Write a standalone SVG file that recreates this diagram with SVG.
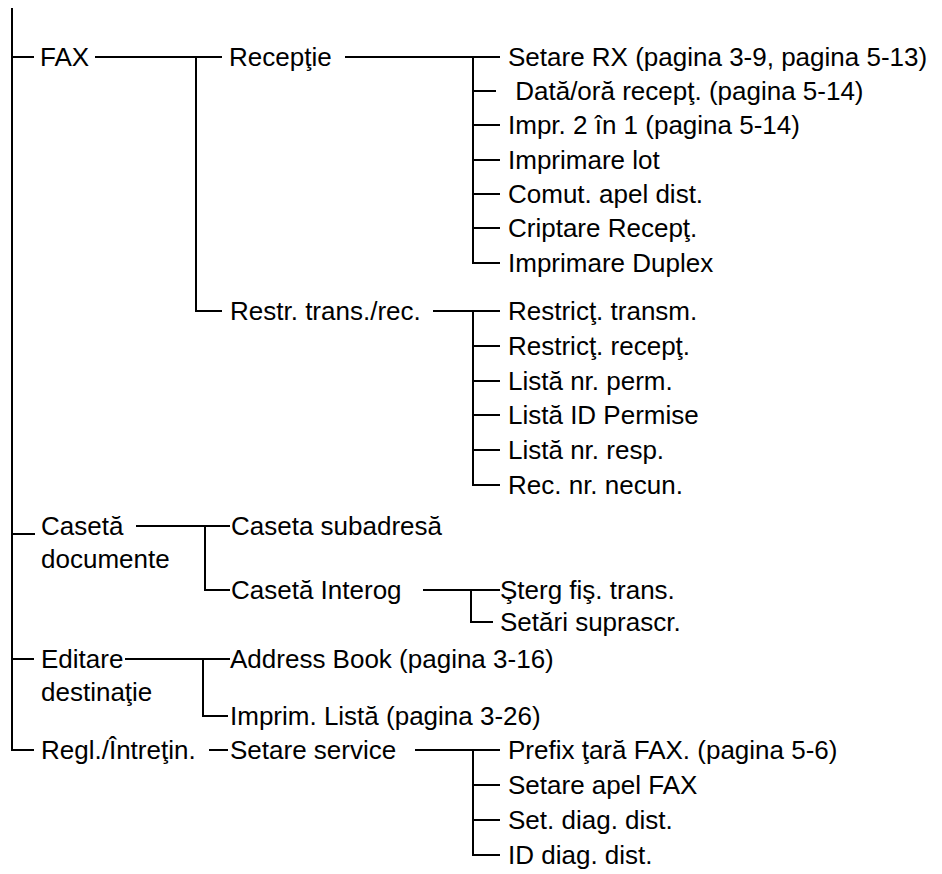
<svg xmlns="http://www.w3.org/2000/svg" width="942" height="874" viewBox="0 0 942 874">
<style>
text{font-family:"Liberation Sans",Arial,sans-serif;font-size:26px;fill:#000}
.c line,.c polyline{stroke:#000;stroke-width:2;fill:none}
</style>
<rect width="942" height="874" fill="#fff"/>
<g class="c" id="connectors">
<line x1="12" y1="8" x2="12" y2="750"/>
<line x1="12" y1="57" x2="34" y2="57"/>
<line x1="95" y1="57" x2="222" y2="57"/>
<polyline points="196,57 196,311 222,311"/>
<line x1="345" y1="57" x2="500" y2="57"/>
<polyline points="473,57 473,263 500,263"/>
<line x1="473" y1="91" x2="496" y2="91"/>
<line x1="473" y1="125" x2="500" y2="125"/>
<line x1="473" y1="160" x2="500" y2="160"/>
<line x1="473" y1="194" x2="500" y2="194"/>
<line x1="473" y1="228" x2="500" y2="228"/>
<line x1="433" y1="311" x2="500" y2="311"/>
<polyline points="473,311 473,485 500,485"/>
<line x1="473" y1="346" x2="500" y2="346"/>
<line x1="473" y1="381" x2="500" y2="381"/>
<line x1="473" y1="415" x2="500" y2="415"/>
<line x1="473" y1="450" x2="500" y2="450"/>
<line x1="12" y1="534" x2="35" y2="534"/>
<line x1="136" y1="526" x2="230" y2="526"/>
<polyline points="205,526 205,590 230,590"/>
<line x1="423" y1="590" x2="500" y2="590"/>
<polyline points="471,590 471,622 493,622"/>
<line x1="12" y1="659" x2="34" y2="659"/>
<line x1="125" y1="659" x2="230" y2="659"/>
<polyline points="203,659 203,716 228,716"/>
<polyline points="12,749 12,750 34,750" stroke-width="1.5"/>
<line x1="209" y1="750" x2="228" y2="750"/>
<line x1="415" y1="750" x2="500" y2="750"/>
<polyline points="473,750 473,855 500,855"/>
<line x1="473" y1="785" x2="500" y2="785"/>
<line x1="473" y1="820" x2="500" y2="820"/>
</g>
<g id="n-fax"><text x="40" y="66">FAX</text></g>
<g id="n-receptie"><text x="229" y="66">Recepţie</text></g>
<g id="n-setare-rx"><text x="508" y="66">Setare RX (pagina 3-9, pagina 5-13)</text></g>
<g id="n-data-ora"><text x="508" y="100" xml:space="preserve"> Dată/oră recepţ. (pagina 5-14)</text></g>
<g id="n-impr2in1"><text x="508" y="134">Impr. 2 în 1 (pagina 5-14)</text></g>
<g id="n-imprimare-lot"><text x="508" y="169">Imprimare lot</text></g>
<g id="n-comut"><text x="508" y="203">Comut. apel dist.</text></g>
<g id="n-criptare"><text x="508" y="237">Criptare Recepţ.</text></g>
<g id="n-duplex"><text x="508" y="272">Imprimare Duplex</text></g>
<g id="n-restr"><text x="230" y="320">Restr. trans./rec.</text></g>
<g id="n-restr-transm"><text x="508" y="320">Restricţ. transm.</text></g>
<g id="n-restr-recept"><text x="508" y="355">Restricţ. recepţ.</text></g>
<g id="n-lista-perm"><text x="508" y="390">Listă nr. perm.</text></g>
<g id="n-lista-id"><text x="508" y="424">Listă ID Permise</text></g>
<g id="n-lista-resp"><text x="508" y="459">Listă nr. resp.</text></g>
<g id="n-rec-necun"><text x="508" y="494">Rec. nr. necun.</text></g>
<g id="n-caseta"><text x="41" y="535">Casetă</text><text x="41" y="568">documente</text></g>
<g id="n-caseta-subadresa"><text x="231" y="535">Caseta subadresă</text></g>
<g id="n-caseta-interog"><text x="231" y="599">Casetă Interog</text></g>
<g id="n-sterg"><text x="500" y="599">Şterg fiş. trans.</text></g>
<g id="n-setari-suprascr"><text x="500" y="631">Setări suprascr.</text></g>
<g id="n-editare"><text x="41" y="668">Editare</text><text x="41" y="701">destinaţie</text></g>
<g id="n-address-book"><text x="230" y="668">Address Book (pagina 3-16)</text></g>
<g id="n-imprim-lista"><text x="230" y="725">Imprim. Listă (pagina 3-26)</text></g>
<g id="n-regl"><text x="41" y="759">Regl./Întreţin.</text></g>
<g id="n-setare-service"><text x="230" y="759">Setare service</text></g>
<g id="n-prefix"><text x="508" y="759">Prefix ţară FAX. (pagina 5-6)</text></g>
<g id="n-setare-apel"><text x="508" y="794">Setare apel FAX</text></g>
<g id="n-set-diag"><text x="508" y="829">Set. diag. dist.</text></g>
<g id="n-id-diag"><text x="508" y="864">ID diag. dist.</text></g>
</svg>
